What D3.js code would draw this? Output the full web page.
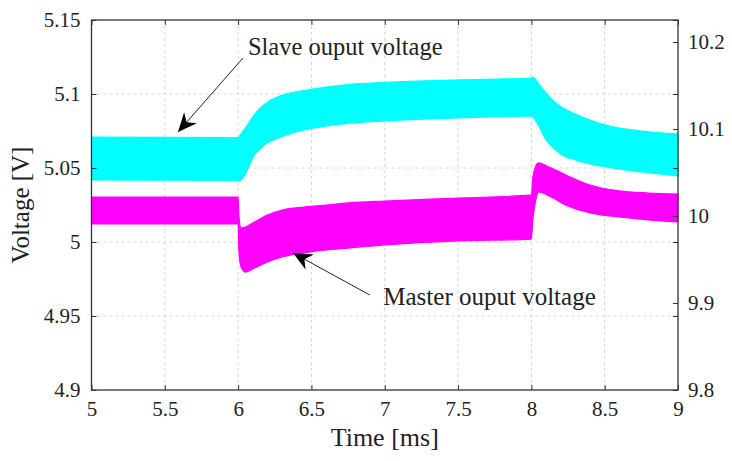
<!DOCTYPE html>
<html>
<head>
<meta charset="utf-8">
<script src="https://cdn.jsdelivr.net/npm/d3@7"></script>
<style>
  body { margin: 0; background: #fff; }
  svg text { font-family: "Liberation Serif", "Times New Roman", "DejaVu Serif", serif; }
</style>
</head>
<body>
<div id="chart"></div>
<script>
// time axis [ms] and tick labels
const xTicks = [5, 5.5, 6, 6.5, 7, 7.5, 8, 8.5, 9];
const yTicks = [4.9, 4.95, 5, 5.05, 5.1, 5.15];
const yRightTicks = [9.8, 9.9, 10, 10.1, 10.2];

// slave output voltage: ripple envelope (upper / lower) [V]
const slaveTime  = [5, 6.0, 6.01, 6.03, 6.06, 6.1, 6.15, 6.2, 6.25, 6.3, 6.4, 6.5, 6.6, 6.75, 7.0, 7.5, 8.0, 8.01, 8.05, 8.1, 8.15, 8.2, 8.3, 8.4, 8.55, 8.75, 9.0];
const slaveUpper = [5.0709, 5.0706, 5.0716, 5.0745, 5.0785, 5.0845, 5.0905, 5.0945, 5.0972, 5.0993, 5.1015, 5.1032, 5.1047, 5.1064, 5.1078, 5.1095, 5.1108, 5.1115, 5.1068, 5.1007, 5.0955, 5.0915, 5.0865, 5.0824, 5.0779, 5.0750, 5.0730];
const slaveLower = [5.0419, 5.0416, 5.0412, 5.0430, 5.0480, 5.0570, 5.0630, 5.0670, 5.0695, 5.0712, 5.0745, 5.0768, 5.0784, 5.0802, 5.0818, 5.0838, 5.0851, 5.0845, 5.0784, 5.0689, 5.0635, 5.0595, 5.0554, 5.0527, 5.0500, 5.0473, 5.0446];

// master output voltage: ripple envelope (upper / lower) [V]
const masterTime  = [5, 6.0, 6.005, 6.02, 6.05, 6.1, 6.2, 6.3, 6.45, 6.6, 6.75, 7.0, 7.5, 8.0, 8.01, 8.03, 8.05, 8.12, 8.25, 8.4, 8.6, 8.8, 9.0];
const masterUpper = [5.0304, 5.0304, 5.0182, 5.0095, 5.0101, 5.0128, 5.0182, 5.0216, 5.0236, 5.0250, 5.0264, 5.0277, 5.0297, 5.0318, 5.0432, 5.0514, 5.0534, 5.0507, 5.0446, 5.0385, 5.0345, 5.0331, 5.0324];
const masterLower = [5.0122, 5.0122, 4.9946, 4.9831, 4.9797, 4.9818, 4.9865, 4.9899, 4.9926, 4.9946, 4.9959, 4.9980, 5.0007, 5.0020, 5.0149, 5.0284, 5.0338, 5.0311, 5.0243, 5.0196, 5.0169, 5.0149, 5.0135];

// annotations: text anchor, arrow start, arrow tip (time, voltage)
const notes = [
    {label: "Slave ouput voltage",  text: [6.067, 5.1262], from: [6.033, 5.1243], to: [5.59, 5.0743]},
    {label: "Master ouput voltage", text: [6.99, 4.9572],  from: [6.898, 4.9642], to: [6.374, 4.9926]}
];

const width = 732;
const height = 461;
const margin = {left: 91.5, right: 54, top: 20, bottom: 71};
const serif = "'Liberation Serif', 'Times New Roman', 'DejaVu Serif', serif";

const svg = d3.select("#chart")
    .append("svg")
    .attr("width", width)
    .attr("height", height)
    .attr("font-family", serif);

const x = d3.scaleLinear().domain([5, 9]).range([margin.left, width - margin.right]);
const y = d3.scaleLinear().domain([4.9, 5.15]).range([height - margin.bottom, margin.top]);
const yR = d3.scaleLinear().domain([9.8, 10.2]).range([height - margin.bottom, 42]);

const x0 = x.range()[0], x1 = x.range()[1];
const y0 = y.range()[0], y1 = y.range()[1];

// grid
const grid = svg.append("g")
    .attr("stroke", "#d4d4d4")
    .attr("stroke-width", 1)
    .attr("stroke-dasharray", "3,3");
grid.selectAll(".gx")
    .data(xTicks.slice(1, -1))
    .join("line")
    .attr("x1", d => x(d)).attr("x2", d => x(d))
    .attr("y1", y1).attr("y2", y0);
grid.selectAll(".gy")
    .data(yTicks.slice(1, -1))
    .join("line")
    .attr("x1", x0).attr("x2", x1)
    .attr("y1", d => y(d)).attr("y2", d => y(d));

// bands
function band(times, upper, lower) {
    return times.map((t, i) => ({t: t, hi: upper[i], lo: lower[i]}));
}
const area = d3.area()
    .x(d => x(d.t))
    .y0(d => y(d.lo))
    .y1(d => y(d.hi))
    .curve(d3.curveMonotoneX);

svg.append("path")
    .attr("d", area(band(slaveTime, slaveUpper, slaveLower)))
    .attr("fill", "#00ffff")
    .attr("stroke", "#00ffff")
    .attr("stroke-width", 1.2);
svg.append("path")
    .attr("d", area(band(masterTime, masterUpper, masterLower)))
    .attr("fill", "#ff00ff")
    .attr("stroke", "#ff00ff")
    .attr("stroke-width", 1.2);

// axes
const axisColor = "#333";
function styleAxis(g, fontSize) {
    g.attr("font-family", serif);
    g.select(".domain").remove();
    g.selectAll(".tick line").attr("stroke", axisColor).attr("stroke-width", 1);
    g.selectAll(".tick text")
        .attr("font-family", serif)
        .attr("font-size", fontSize)
        .attr("fill", "#222");
}
const fmt = d => String(d);

svg.append("g")
    .attr("transform", `translate(0,${y0})`)
    .call(d3.axisBottom(x).tickValues(xTicks).tickFormat(fmt).tickSizeInner(-5).tickSizeOuter(0).tickPadding(11))
    .call(g => styleAxis(g, 21));
svg.append("g")
    .attr("transform", `translate(0,${y1})`)
    .call(d3.axisTop(x).tickValues(xTicks).tickFormat("").tickSizeInner(-5).tickSizeOuter(0))
    .call(g => styleAxis(g, 21));
svg.append("g")
    .attr("transform", `translate(${x0},0)`)
    .call(d3.axisLeft(y).tickValues(yTicks).tickFormat(fmt).tickSizeInner(-5).tickSizeOuter(0).tickPadding(11))
    .call(g => styleAxis(g, 21));
svg.append("g")
    .attr("transform", `translate(${x1},0)`)
    .call(d3.axisRight(y).tickValues(yTicks).tickFormat("").tickSizeInner(-5).tickSizeOuter(0))
    .call(g => styleAxis(g, 21));
svg.append("g")
    .attr("transform", `translate(${x1},0)`)
    .call(d3.axisRight(yR).tickValues(yRightTicks).tickFormat(fmt).tickSizeInner(-5).tickSizeOuter(0).tickPadding(10))
    .call(g => styleAxis(g, 21));

// frame
svg.append("rect")
    .attr("x", x0).attr("y", y1)
    .attr("width", x1 - x0).attr("height", y0 - y1)
    .attr("fill", "none")
    .attr("stroke", axisColor)
    .attr("stroke-width", 1.3);

// axis titles
svg.append("text")
    .attr("x", (x0 + x1) / 2)
    .attr("y", 446)
    .attr("text-anchor", "middle")
    .attr("font-size", 26)
    .attr("fill", "#222")
    .text("Time [ms]");
svg.append("text")
    .attr("transform", `translate(29,${(y0 + y1) / 2}) rotate(-90)`)
    .attr("text-anchor", "middle")
    .attr("font-size", 25)
    .attr("fill", "#222")
    .text("Voltage [V]");

// annotations
svg.append("defs").append("marker")
    .attr("id", "stealth")
    .attr("markerUnits", "userSpaceOnUse")
    .attr("viewBox", "-20 -10 22 20")
    .attr("refX", 0).attr("refY", 0)
    .attr("markerWidth", 22).attr("markerHeight", 20)
    .attr("orient", "auto")
    .append("path")
    .attr("d", "M0,0 L-19,-8.5 L-13,0 L-19,8.5 Z")
    .attr("fill", "#000");

const ann = svg.append("g");
ann.selectAll("line")
    .data(notes)
    .join("line")
    .attr("x1", d => x(d.from[0])).attr("y1", d => y(d.from[1]))
    .attr("x2", d => x(d.to[0])).attr("y2", d => y(d.to[1]))
    .attr("stroke", "#222")
    .attr("stroke-width", 1)
    .attr("marker-end", "url(#stealth)");
ann.selectAll("text")
    .data(notes)
    .join("text")
    .attr("x", d => x(d.text[0])).attr("y", d => y(d.text[1]))
    .attr("font-size", d => d.label.startsWith("Slave") ? 24.5 : 25)
    .attr("fill", "#222")
    .text(d => d.label);
</script>
</body>
</html>
